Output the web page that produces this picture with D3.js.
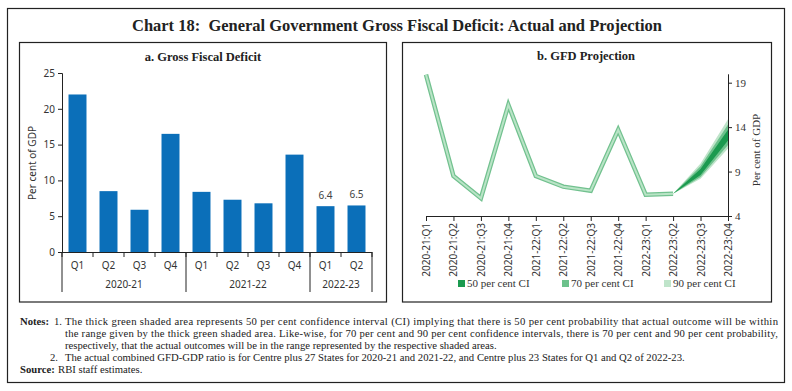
<!DOCTYPE html>
<html><head><meta charset="utf-8">
<script src="https://cdn.jsdelivr.net/npm/d3@7"></script>
<style>body{margin:0;background:#fff}svg{display:block}</style>
</head><body><svg id="c" width="792" height="391"></svg>
<script>
// ---------- data ----------
const quarters = ["Q1","Q2","Q3","Q4","Q1","Q2","Q3","Q4","Q1","Q2"];
const yearGroups = ["2020-21","2021-22","2022-23"];
const yearGroupSizes = [4,4,2];
const gfdActual = [22.0,8.5,5.9,16.5,8.4,7.3,6.8,13.6,6.4,6.5];
const labelledValues = ["","","","","","","","","6.4","6.5"];
const yTicksA = [0,5,10,15,20,25];

const periods = ["2020-21:Q1","2020-21:Q2","2020-21:Q3","2020-21:Q4","2021-22:Q1","2021-22:Q2","2021-22:Q3","2021-22:Q4","2022-23:Q1","2022-23:Q2","2022-23:Q3","2022-23:Q4"];
const gfdHistory = [19.9,8.5,6.0,16.5,8.5,7.3,6.85,13.7,6.4,6.5];
const fanPeriods = ["2022-23:Q2","2022-23:Q3","2022-23:Q4"];
const ci90Low = [6.5,8.2,11.6];
const ci90High = [6.5,9.9,14.9];
const ci70Low = [6.5,8.4,12.0];
const ci70High = [6.5,9.6,14.3];
const ci50Low = [6.5,8.6,12.5];
const ci50High = [6.5,9.3,13.7];
const yTicksB = [4,9,14,19];
const legendItems = ["50 per cent CI","70 per cent CI","90 per cent CI"];
const legendColors = ["#1b9a4f","#6cc18b","#bfe4ca"];

// ---------- drawing ----------
const svg = d3.select("#c");
const serif = "'Liberation Serif','DejaVu Serif',serif";
const sans = "'Noto Sans','Open Sans',sans-serif";

svg.append("rect").attr("x",7.5).attr("y",8.5).attr("width",777).attr("height",374)
  .attr("fill","none").attr("stroke","#222").attr("stroke-width",1.2);
svg.append("text").attr("x",397).attr("y",31).attr("text-anchor","middle")
  .attr("font-family",serif).attr("font-weight","bold").attr("font-size",16)
  .attr("textLength",530).attr("lengthAdjust","spacingAndGlyphs").attr("fill","#222")
  .text("Chart 18:\u00a0 General Government Gross Fiscal Deficit: Actual and Projection");

// panel frames
svg.append("rect").attr("x",19.5).attr("y",42.5).attr("width",367).attr("height",259.5)
  .attr("fill","none").attr("stroke","#222").attr("stroke-width",1.2);
svg.append("rect").attr("x",402.5).attr("y",42.5).attr("width",369).attr("height",259.5)
  .attr("fill","none").attr("stroke","#222").attr("stroke-width",1.2);

// ---------- panel a ----------
const gA = svg.append("g");
gA.append("text").attr("x",203).attr("y",61).attr("text-anchor","middle")
  .attr("font-family",serif).attr("font-weight","bold").attr("font-size",12.5).attr("fill","#222")
  .text("a. Gross Fiscal Deficit");
const idx = d3.range(quarters.length);
const xA = d3.scaleBand().domain(idx).range([62,372]).paddingInner(0.42).paddingOuter(0.21);
const yA = d3.scaleLinear().domain([0,25]).range([252,73]);
gA.selectAll("rect.bar").data(idx).join("rect").attr("class","bar")
  .attr("x",i=>xA(i)).attr("width",xA.bandwidth())
  .attr("y",i=>yA(gfdActual[i])).attr("height",i=>yA(0)-yA(gfdActual[i]))
  .attr("fill","#0b6fb9");
gA.selectAll("text.vl").data(idx.filter(i=>labelledValues[i])).join("text").attr("class","vl")
  .attr("x",i=>xA(i)+xA.bandwidth()/2).attr("y",i=>yA(gfdActual[i])-7)
  .attr("text-anchor","middle").attr("font-family",sans).attr("font-size",10).attr("fill","#444")
  .text(i=>labelledValues[i]);
const axA = gA.append("g").attr("transform","translate(62,0)")
  .call(d3.axisLeft(yA).tickValues(yTicksA).tickSize(4).tickSizeOuter(4));
axA.selectAll("text").attr("font-family",sans).attr("font-size",10).attr("fill","#333");
axA.selectAll("line,path").attr("stroke","#222");
// x axis line
gA.append("line").attr("x1",62).attr("x2",372).attr("y1",252.5).attr("y2",252.5).attr("stroke","#222");
const step = xA.step();
const x0 = xA.range()[0];
// minor ticks at category boundaries
gA.selectAll("line.ct").data(d3.range(quarters.length+1)).join("line").attr("class","ct")
  .attr("x1",i=>x0+i*step).attr("x2",i=>x0+i*step).attr("y1",252).attr("y2",257).attr("stroke","#222");
gA.selectAll("text.q").data(idx).join("text").attr("class","q")
  .attr("x",i=>xA(i)+xA.bandwidth()/2).attr("y",269).attr("text-anchor","middle")
  .attr("font-family",sans).attr("font-size",10).attr("fill","#333").text(i=>quarters[i]);
const groupStarts = yearGroupSizes.reduce((a,s)=>{a.push(a[a.length-1]+s);return a;},[0]);
gA.selectAll("line.gs").data(groupStarts).join("line").attr("class","gs")
  .attr("x1",k=>x0+k*step).attr("x2",k=>x0+k*step).attr("y1",252).attr("y2",292).attr("stroke","#222");
gA.selectAll("text.yr").data(yearGroups).join("text").attr("class","yr")
  .attr("x",(d,j)=>x0+(groupStarts[j]+groupStarts[j+1])/2*step).attr("y",288).attr("text-anchor","middle")
  .attr("font-family",sans).attr("font-size",10).attr("fill","#333").text(d=>d);
gA.append("text").attr("transform","translate(36,163) rotate(-90)").attr("text-anchor","middle")
  .attr("font-family",sans).attr("font-size",10).attr("fill","#333").text("Per cent of GDP");

// ---------- panel b ----------
const gB = svg.append("g");
gB.append("text").attr("x",586).attr("y",60).attr("text-anchor","middle")
  .attr("font-family",serif).attr("font-weight","bold").attr("font-size",12.5).attr("fill","#222")
  .text("b. GFD Projection");
const xB = d3.scalePoint().domain(periods).range([426,728]);
const yB = d3.scaleLinear().domain([4,20]).range([216,73.8]);
const fanIdx = d3.range(fanPeriods.length);
const area = (lo,hi)=>d3.area().x(i=>xB(fanPeriods[i])).y0(i=>yB(lo[i])).y1(i=>yB(hi[i]));
gB.append("path").datum(fanIdx).attr("d",area(ci90Low,ci90High)).attr("fill",legendColors[2]);
gB.append("path").datum(fanIdx).attr("d",area(ci70Low,ci70High)).attr("fill",legendColors[1]);
gB.append("path").datum(fanIdx).attr("d",area(ci50Low,ci50High)).attr("fill",legendColors[0]);
const line = d3.line().x((d,i)=>xB(periods[i])).y(d=>yB(d));
gB.append("path").datum(gfdHistory).attr("d",line).attr("fill","none")
  .attr("stroke","#72c18f").attr("stroke-width",4.5).attr("stroke-linejoin","miter");
gB.append("path").datum(gfdHistory).attr("d",line).attr("fill","none")
  .attr("stroke","#b9e4c6").attr("stroke-width",2).attr("stroke-linejoin","miter");
const axBy = gB.append("g").attr("transform","translate(728,0)")
  .call(d3.axisRight(yB).tickValues(yTicksB).tickSize(4).tickSizeOuter(0));
axBy.selectAll("text").attr("font-family",serif).attr("font-size",11).attr("fill","#333");
axBy.selectAll("line,path").attr("stroke","#222");
const axBx = gB.append("g").attr("transform","translate(0,216)")
  .call(d3.axisBottom(xB).tickSize(5).tickSizeOuter(0));
axBx.selectAll("line,path").attr("stroke","#222");
axBx.selectAll("text").attr("font-family",sans).attr("font-size",10).attr("fill","#333")
  .attr("text-anchor","end").attr("transform","rotate(-90)").attr("x",-7).attr("y",0).attr("dy","0.35em");
gB.append("text").attr("transform","translate(760,150) rotate(-90)").attr("text-anchor","middle")
  .attr("font-family",serif).attr("font-size",11).attr("fill","#333").text("Per cent of GDP");
// legend
const legX = [458,562,664];
legendItems.forEach((t,i)=>{
  gB.append("rect").attr("x",legX[i]).attr("y",280).attr("width",7).attr("height",7).attr("fill",legendColors[i]);
  gB.append("text").attr("x",legX[i]+9).attr("y",287).attr("font-family",serif).attr("font-size",11)
    .attr("fill","#333").text(t);
});

// ---------- notes ----------
const notes = [
  {lab:"Notes:",num:"1.",txt:"The thick green shaded area represents 50 per cent confidence interval (CI) implying that there is 50 per cent probability that actual outcome will be within",len:713},
  {txt:"the range given by the thick green shaded area. Like-wise, for 70 per cent and 90 per cent confidence intervals, there is 70 per cent and 90 per cent probability,",len:713},
  {txt:"respectively, that the actual outcomes will be in the range represented by the respective shaded areas."},
  {num:"2.",txt:"The actual combined GFD-GDP ratio is for Centre plus 27 States for 2020-21 and 2021-22, and Centre plus 23 States for Q1 and Q2 of 2022-23."},
  {lab:"Source:",txt2:"RBI staff estimates."}
];
const baseY = [325,337,349,361,372.5];
notes.forEach((n,i)=>{
  const y = baseY[i];
  const t = (x,s,bold)=>svg.append("text").attr("x",x).attr("y",y).attr("font-family",serif)
    .attr("font-size",10.7).attr("fill","#222").attr("font-weight",bold?"bold":"normal").text(s);
  if(n.lab) t(20,n.lab,true);
  if(n.num) t(n.num==="1."?54:50,n.num,false);
  if(n.txt){const e=t(65,n.txt,false); if(n.len) e.attr("textLength",n.len).attr("lengthAdjust","spacing");}
  if(n.txt2) t(58,n.txt2,false);
});
</script></body></html>
